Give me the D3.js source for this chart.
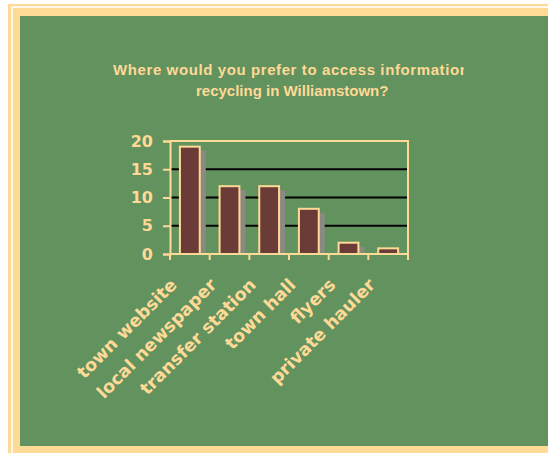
<!DOCTYPE html>
<html>
<head>
<meta charset="utf-8">
<script src="https://cdn.jsdelivr.net/npm/d3@7"></script>
<style>
  body { margin: 0; background: #ffffff; }
  svg { display: block; }
</style>
</head>
<body>
<div id="chart"></div>
<script>
const categories = ["town website", "local newspaper", "transfer station", "town hall", "flyers", "private hauler"];
const responses = [19, 12, 12, 8, 2, 1];
const yTicks = [0, 5, 10, 15, 20];
const titleLines = ["Where would you prefer to access information", "recycling in Williamstown?"];

const width = 548;
const height = 453;
const beige = "#ffd996";
const green = "#62925e";

const svg = d3.select("#chart")
    .append("svg")
    .attr("width", width)
    .attr("height", height);

// frame
svg.append("rect").attr("x", 8).attr("y", 4).attr("width", 600).attr("height", 500).attr("fill", beige);
svg.append("rect").attr("x", 12).attr("y", 7).attr("width", 600).attr("height", 500)
    .attr("fill", "none").attr("stroke", "#ffffff").attr("stroke-width", 1.6);
svg.append("rect").attr("x", 20).attr("y", 16).attr("width", 600).attr("height", 430).attr("fill", green);

// title, clipped on the right like the original
svg.append("clipPath").attr("id", "titleClip")
    .append("rect").attr("x", 20).attr("y", 50).attr("width", 444).attr("height", 60);

const titleX = [113, 196];
svg.append("g")
    .attr("clip-path", "url(#titleClip)")
    .selectAll("text")
    .data(titleLines)
    .enter()
    .append("text")
    .attr("x", (d, i) => titleX[i])
    .attr("y", (d, i) => 75 + i * 21)
    .style("font-family", "Liberation Sans, Arial, sans-serif")
    .style("font-weight", "bold")
    .style("font-size", "15px")
    .style("letter-spacing", (d, i) => i === 0 ? "0.6px" : "0px")
    .style("fill", beige)
    .text(d => d);

// plot
const plot = { left: 170, right: 408, top: 141, bottom: 254 };

const x = d3.scaleBand()
    .domain(categories)
    .range([plot.left, plot.right]);

const y = d3.scaleLinear()
    .domain([0, 20])
    .range([plot.bottom, plot.top]);

// gridlines
svg.selectAll("line.grid")
    .data(yTicks.filter(d => d > 0 && d < 20))
    .enter()
    .append("line")
    .attr("class", "grid")
    .attr("x1", plot.left).attr("x2", plot.right)
    .attr("y1", d => y(d)).attr("y2", d => y(d))
    .attr("stroke", "#000000")
    .attr("stroke-width", 2);

// top and right border of plot area
svg.append("path")
    .attr("d", `M${plot.left},${plot.top}H${plot.right}V${plot.bottom}`)
    .attr("fill", "none")
    .attr("stroke", beige)
    .attr("stroke-width", 2);

const barW = x.bandwidth() * 0.5;
const barX = d => x(d) + (x.bandwidth() - barW) / 2;

// shadows
svg.selectAll("rect.shadow")
    .data(responses)
    .enter()
    .append("rect")
    .attr("class", "shadow")
    .attr("x", (d, i) => barX(categories[i]) + 6)
    .attr("y", d => y(d) + 4)
    .attr("width", barW)
    .attr("height", d => Math.max(0, plot.bottom - y(d) - 3))
    .attr("fill", "#8a8a82");

// bars
svg.selectAll("rect.bar")
    .data(responses)
    .enter()
    .append("rect")
    .attr("class", "bar")
    .attr("x", (d, i) => barX(categories[i]))
    .attr("y", d => y(d))
    .attr("width", barW)
    .attr("height", d => plot.bottom - y(d))
    .attr("fill", "#6b3b37")
    .attr("stroke", beige)
    .attr("stroke-width", 2);

// y axis
const yAxis = svg.append("g")
    .attr("transform", `translate(${plot.left},0)`)
    .call(d3.axisLeft(y).tickValues(yTicks).tickSize(7).tickPadding(10));
yAxis.select(".domain").attr("stroke", beige).attr("stroke-width", 2);
yAxis.selectAll(".tick line").attr("stroke", beige).attr("stroke-width", 2);
yAxis.selectAll(".tick text")
    .attr("fill", beige)
    .style("font-family", "DejaVu Sans, Verdana, sans-serif")
    .style("font-weight", "bold")
    .style("font-size", "16px");

// x axis line with ticks between categories
svg.append("line")
    .attr("x1", plot.left).attr("x2", plot.right)
    .attr("y1", plot.bottom).attr("y2", plot.bottom)
    .attr("stroke", beige).attr("stroke-width", 2);

const boundaries = categories.map(c => x(c)).concat([plot.right]);
svg.selectAll("line.xtick")
    .data(boundaries)
    .enter()
    .append("line")
    .attr("class", "xtick")
    .attr("x1", d => d).attr("x2", d => d)
    .attr("y1", plot.bottom).attr("y2", plot.bottom + 6)
    .attr("stroke", beige).attr("stroke-width", 2);

// category labels
svg.selectAll("text.cat")
    .data(categories)
    .enter()
    .append("text")
    .attr("class", "cat")
    .attr("transform", d => `translate(${x(d) + x.bandwidth() / 2 - 12},${plot.bottom + 32}) rotate(-45)`)
    .attr("text-anchor", "end")
    .style("font-family", "DejaVu Sans, Verdana, sans-serif")
    .style("font-weight", "bold")
    .style("font-size", "17.5px")
    .style("fill", beige)
    .text(d => d);
</script>
</body>
</html>
